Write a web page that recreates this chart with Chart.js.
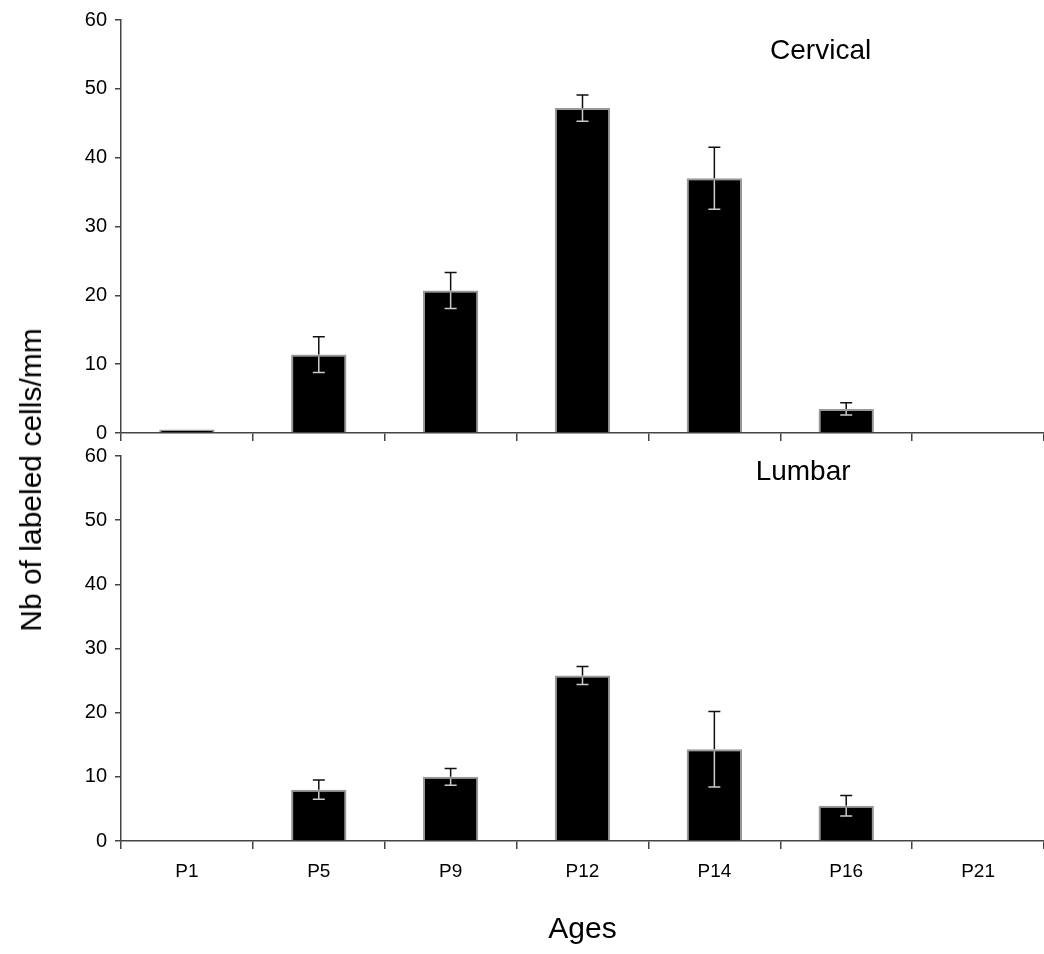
<!DOCTYPE html>
<html>
<head>
<meta charset="utf-8">
<script src="https://cdn.jsdelivr.net/npm/chart.js@4/dist/chart.umd.min.js"></script>
<style>
  html, body { margin: 0; padding: 0; background: #fff; }
  #page { position: relative; width: 1044px; height: 954px; overflow: hidden; }
  .panel { position: absolute; left: 0; width: 1044px; }
  #yTitle {
    position: absolute; left: 31px; top: 480px;
    transform: translate(-50%, -50%) rotate(-90deg);
    font-family: "Liberation Sans", Arial, sans-serif; font-size: 30px;
    color: #000; white-space: nowrap;
  }
</style>
</head>
<body>
<div id="page">
  <div class="panel" style="top:0px;height:453px"><canvas id="cervicalChart" width="1044" height="453"></canvas></div>
  <div class="panel" style="top:436px;height:518px"><canvas id="lumbarChart" width="1044" height="518"></canvas></div>
  <div id="yTitle">Nb of labeled cells/mm</div>
</div>
<script>
// Data
const ages = ['P1', 'P5', 'P9', 'P12', 'P14', 'P16', 'P21'];
const cervical = [0.5, 11.4, 20.7, 47.2, 37.0, 3.5, 0];
const cervicalErr = [0, 2.6, 2.6, 1.9, 4.5, 0.9, 0];
const lumbar = [0, 8.0, 10.0, 25.8, 14.3, 5.5, 0];
const lumbarErr = [0, 1.5, 1.3, 1.4, 5.9, 1.6, 0];
const yTicks = [0, 10, 20, 30, 40, 50, 60];

const FONT = '"Liberation Sans", Arial, sans-serif';
const AXIS = '#444';

// error bars: black upper whisker, light lower whisker inside the bar
const errorBars = {
    id: 'errorBars',
    afterDatasetsDraw(chart, args, opts) {
        const ctx = chart.ctx;
        const meta = chart.getDatasetMeta(0);
        const y = chart.scales.y;
        const values = chart.data.datasets[0].data;
        meta.data.forEach((bar, i) => {
            const err = opts.errors[i];
            if (!err) return;
            const x = bar.x;
            const yv = y.getPixelForValue(values[i]);
            const yHi = y.getPixelForValue(values[i] + err);
            const yLo = y.getPixelForValue(values[i] - err);
            ctx.save();
            ctx.lineWidth = 1.5;
            ctx.strokeStyle = '#111';
            ctx.beginPath();
            ctx.moveTo(x, yv); ctx.lineTo(x, yHi);
            ctx.moveTo(x - 6, yHi); ctx.lineTo(x + 6, yHi);
            ctx.stroke();
            ctx.strokeStyle = '#ccc';
            ctx.beginPath();
            ctx.moveTo(x, yv + 2); ctx.lineTo(x, yLo);
            ctx.moveTo(x - 6, yLo); ctx.lineTo(x + 6, yLo);
            ctx.stroke();
            ctx.restore();
        });
    }
};

// panel name written inside the plot area
const panelLabel = {
    id: 'panelLabel',
    afterDraw(chart, args, opts) {
        const { ctx, chartArea } = chart;
        const y = chart.scales.y;
        ctx.save();
        ctx.font = '28px ' + FONT;
        ctx.fillStyle = '#000';
        ctx.textAlign = 'center';
        ctx.textBaseline = 'middle';
        ctx.fillText(opts.text, chartArea.left + opts.xFrac * (chartArea.right - chartArea.left), y.getPixelForValue(opts.value));
        ctx.restore();
    }
};

function makePanel(canvasId, values, errors, label, labelValue, labelX, isBottom) {
    const ctx = document.getElementById(canvasId).getContext('2d');
    return new Chart(ctx, {
        type: 'bar',
        data: {
            labels: ages,
            datasets: [{
                data: values,
                backgroundColor: '#000',
                borderColor: '#999',
                borderWidth: 2,
                barPercentage: 0.42,
                categoryPercentage: 1.0
            }]
        },
        plugins: [errorBars, panelLabel],
        options: {
            responsive: false,
            animation: false,
            devicePixelRatio: 1,
            layout: { padding: { top: isBottom ? 15 : 20, right: 0, left: 0, bottom: 0 } },
            plugins: {
                legend: { display: false },
                tooltip: { enabled: false },
                errorBars: { errors: errors },
                panelLabel: { text: label, value: labelValue, xFrac: labelX }
            },
            scales: {
                x: {
                    offset: true,
                    grid: { display: true, offset: true, drawOnChartArea: false, drawTicks: true, tickLength: 8, color: AXIS, lineWidth: 1.5 },
                    border: { display: true, color: AXIS, width: 1.5 },
                    ticks: { display: isBottom, color: '#000', font: { family: FONT, size: 19 }, padding: 11 },
                    title: { display: isBottom, text: 'Ages', color: '#000', font: { family: FONT, size: 30 }, padding: { top: 0, bottom: 6 } },
                    afterFit(scale) { scale.height = isBottom ? 113 : 17; }
                },
                y: {
                    min: 0,
                    max: 60,
                    afterBuildTicks(scale) { scale.ticks = yTicks.map(v => ({ value: v })); },
                    grid: { display: true, drawOnChartArea: false, drawTicks: true, tickLength: 6, color: AXIS, lineWidth: 1.5 },
                    border: { display: true, color: AXIS, width: 1.5 },
                    ticks: { color: '#000', font: { family: FONT, size: 20 }, padding: 8 },
                    afterFit(scale) { scale.width = 121; }
                }
            }
        }
    });
}

makePanel('cervicalChart', cervical, cervicalErr, 'Cervical', 55.5, 0.758, false);
makePanel('lumbarChart', lumbar, lumbarErr, 'Lumbar', 57.5, 0.739, true);
</script>
</body>
</html>
